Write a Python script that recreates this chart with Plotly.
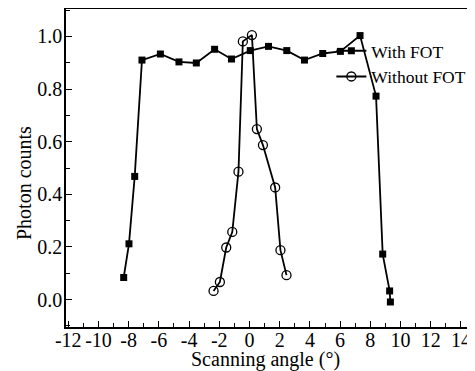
import plotly.graph_objects as go

# Data
with_fot_x = [-8.33, -7.98, -7.60, -7.12, -5.90, -4.67, -3.52, -2.31, -1.19, 0.05,
              1.26, 2.47, 3.64, 4.85, 6.02, 7.32, 8.38, 8.82, 9.28, 9.33]
with_fot_y = [0.084, 0.212, 0.468, 0.910, 0.933, 0.903, 0.899, 0.951, 0.914, 0.946,
              0.962, 0.946, 0.910, 0.935, 0.943, 1.003, 0.773, 0.173, 0.033, -0.009]

without_fot_x = [-2.38, -1.96, -1.54, -1.14, -0.73, -0.44, 0.16, 0.49, 0.89, 1.70, 2.05, 2.45]
without_fot_y = [0.033, 0.067, 0.198, 0.257, 0.486, 0.981, 1.005, 0.648, 0.587, 0.426, 0.188, 0.093]

x_tickvals = [-12, -10, -8, -6, -4, -2, 0, 2, 4, 6, 8, 10, 12, 14]
x_ticktext = ["-12", "-10", "-8", "-6", "-4", "-2", "0", "2", "4", "6", "8", "10", "12", "14"]
y_tickvals = [0.0, 0.2, 0.4, 0.6, 0.8, 1.0]
y_ticktext = ["0.0", "0.2", "0.4", "0.6", "0.8", "1.0"]

FONT = "Liberation Serif"

fig = go.Figure()
fig.add_trace(go.Scatter(
    x=with_fot_x, y=with_fot_y, mode="lines+markers", name="With FOT",
    line=dict(color="black", width=1.8),
    marker=dict(symbol="square", size=7, color="black"),
))
fig.add_trace(go.Scatter(
    x=without_fot_x, y=without_fot_y, mode="lines+markers", name="Without FOT",
    line=dict(color="black", width=1.8),
    marker=dict(symbol="circle-open", size=9, color="black", line=dict(width=1.3)),
))

# The page body adds an 8px margin, so the figure is 8px smaller than the window
fig.update_layout(
    width=467, height=363,
    margin=dict(l=58, r=2, t=1, b=44),
    paper_bgcolor="white", plot_bgcolor="white",
    font=dict(family=FONT, size=20, color="black"),
    showlegend=True,
    legend=dict(x=0.652, y=0.925, xanchor="left", yanchor="top",
                bgcolor="rgba(0,0,0,0)", font=dict(size=17.5, family=FONT),
                tracegroupgap=0, itemwidth=30),
    annotations=[
        dict(text="Photon counts", textangle=-90, xref="paper", yref="paper",
             x=-0.103, y=0.453, xanchor="center", yanchor="middle",
             showarrow=False, font=dict(size=20, family=FONT)),
        dict(text="Scanning angle (°)", xref="paper", yref="paper",
             x=0.489, y=-0.103, xanchor="center", yanchor="middle",
             showarrow=False, font=dict(size=20, family=FONT)),
    ],
)

fig.update_xaxes(
    range=[-12.15, 14.8], tickvals=x_tickvals, ticktext=x_ticktext,
    ticks="inside", ticklen=6, tickwidth=1.2, tickcolor="black",
    minor=dict(dtick=1, tick0=0, ticks="inside", ticklen=4, tickwidth=1.2, tickcolor="black"),
    showline=True, linecolor="black", linewidth=1.5, mirror=True,
    showgrid=False, zeroline=False, automargin=False, ticklabelstandoff=-6,
    tickfont=dict(size=20, family=FONT),
)
fig.update_yaxes(
    range=[-0.104, 1.104], tickvals=y_tickvals, ticktext=y_ticktext,
    ticks="inside", ticklen=6, tickwidth=1.2, tickcolor="black",
    minor=dict(dtick=0.1, tick0=0, ticks="inside", ticklen=4, tickwidth=1.2, tickcolor="black"),
    showline=True, linecolor="black", linewidth=1.5, mirror=True,
    showgrid=False, zeroline=False, automargin=False, ticklabelstandoff=-2,
    tickfont=dict(size=20, family=FONT),
)

fig.write_html("out.html")
